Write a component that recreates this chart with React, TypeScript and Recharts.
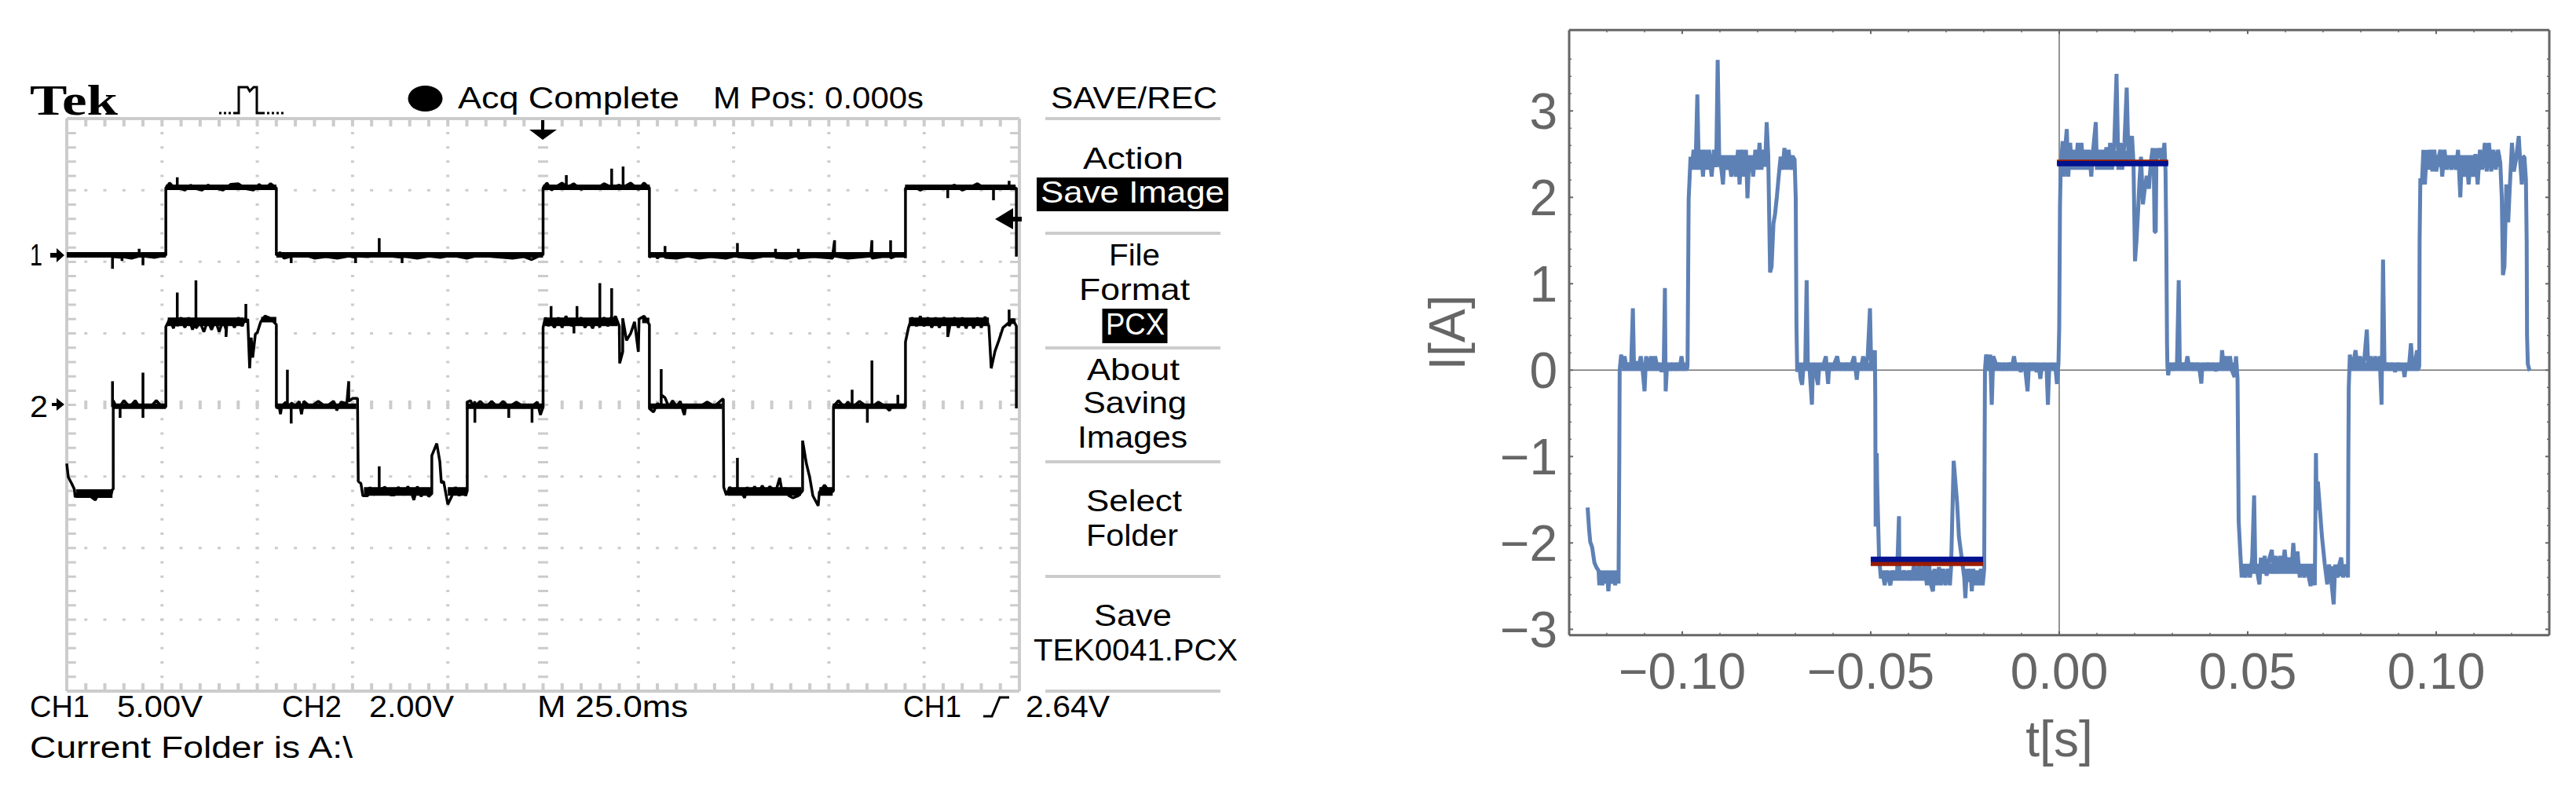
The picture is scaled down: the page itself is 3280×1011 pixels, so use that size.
import React from 'react';
import { LineChart, Line, XAxis, YAxis, ReferenceLine } from 'recharts';

type Seg = number[][];

// ---------- Oscilloscope: time in ms (25 ms/div), level in graticule divisions from centre ----------
const scopeDivTimes = [-100, -75, -50, -25, 25, 50, 75, 100];
const scopeDivLevels = [-3, -2, -1, 1, 2, 3];

const ch1Low1: Seg = [[-125,2.09],[-116,2.09],[-113,2.08],[-113,1.9],[-113,2.07],[-110.5,2.06],[-110.5,2.01],[-110.5,2.07],[-108,2.05],[-106,2.08],[-106,2.18],[-106,2.08],[-105,2.07],[-105,1.95],[-105,2.08],[-102,2.06],[-99.2,2.09]];
const ch1High1: Seg = [[-99,2.09],[-99,3.03],[-98,3.1],[-97,3.04],[-96,3.05],[-96,3.18],[-96,3.04],[-94,3],[-92.5,3.07],[-91,3.02],[-89.5,3],[-88,3.07],[-86,3.03],[-84,3],[-82,3.08],[-80,3.09],[-78,3.02],[-76,3],[-74.5,3.08],[-73,3.02],[-71.5,3.09],[-70,3.03]];
const ch1Low2: Seg = [[-70,2.09],[-69,2.13],[-68,2.05],[-66.5,2.07],[-66.1,2.06],[-66.1,1.98],[-66.1,2.08],[-63,2.1],[-60,2.05],[-57,2.07],[-54,2.05],[-51,2.08],[-49.2,2.06],[-49.2,1.98],[-49.2,2.08],[-46,2.07],[-43,2.09],[-43,2.33],[-43,2.08],[-40,2.08],[-37,2.06],[-37,1.98],[-37,2.08],[-33,2.05],[-30,2.08],[-27,2.06],[-24,2.09],[-20,2.05],[-17,2.09],[-13,2.07],[-8,2.05],[-5,2.07],[-3,2.03],[-1,2.08],[0,2.1]];
const ch1High2: Seg = [[0,2.1],[0,3.03],[1,3.1],[2.2,3.0],[3.5,3.05],[5,3.1],[6.1,3.05],[6.1,3.21],[6.1,3.03],[8,3.09],[10,3.01],[12,3.05],[14,3.02],[16,3.09],[18,3.04],[18,3.3],[18,3.04],[20,3.07],[21,3.04],[21,3.33],[21,3.04],[23,3.1],[25,3.01],[26.5,3.1],[27.9,3.03]];
const ch1Low3: Seg = [[27.9,2.06],[29,2.12],[30,2.05],[31,2.1],[32,2.07],[32,2.22],[32,2.06],[35,2.05],[38,2.08],[41,2.05],[44,2.07],[48,2.05],[51,2.09],[51,2.26],[51,2.07],[55,2.05],[58,2.08],[61,2.09],[61,2.18],[61,2.06],[64,2.05],[67,2.09],[67,2.18],[67,2.05],[71,2.07],[76,2.05],[76,2.09],[76.5,2.3],[76.5,2.08],[80,2.05],[86,2.08],[86.3,2.3],[86.3,2.05],[89,2.07],[91.2,2.07],[91.2,2.3],[91.2,2.05],[93,2.09],[95,2.12],[95.1,2.05]];
const ch1High3: Seg = [[95.1,3.03],[97,3.06],[99,3.0],[101,3.06],[103,3.02],[105,3.03],[106.2,3.02],[106.2,2.89],[106.2,3.04],[108,3.07],[110,3.0],[112,3.04],[114,3.09],[116,3.02],[118.2,3.04],[118.2,2.86],[118.2,3.03],[120,3.06],[122.3,3.04],[122.3,3.13],[122.3,3.02],[124.2,3.03],[124.2,2.07]];

const ch2Low0: Seg = [[-125,-0.82],[-124.6,-1.01],[-123.7,-1.1],[-123,-1.18],[-122.8,-1.29],[-121.5,-1.2],[-120.5,-1.28],[-119.5,-1.2],[-118.5,-1.29],[-117.5,-1.33],[-116.5,-1.22],[-115.5,-1.28],[-114.5,-1.2],[-113.5,-1.28],[-113,-1.18]];
const ch2Zero1: Seg = [[-112.8,-1.18],[-112.8,0.06],[-112,-0.03],[-111,-0.03],[-111,-0.18],[-111,-0.02],[-110,0.06],[-108.5,-0.03],[-107,0.06],[-106,-0.03],[-105,-0.03],[-105,0.45],[-105,-0.18],[-105,-0.03],[-103,-0.03],[-101.5,0.06],[-100,-0.03],[-99,-0.03]];
const ch2Spike1: Seg = [[-113,-0.03],[-113,0.33]];
const ch2High1: Seg = [[-99,1.09],[-98,1.2],[-97,1.07],[-96.3,1.2],[-96,1.1],[-96,1.57],[-96,1.1],[-95,1.22],[-94,1.08],[-93,1.22],[-92,1.05],[-91.1,1.2],[-91.1,1.74],[-91.1,1.07],[-90,1.15],[-89,1.02],[-88,1.18],[-87,1.05],[-86,1.18],[-85,1.02],[-84,1.18],[-83.2,1.05],[-83.2,0.95],[-83,1.14],[-82,1.2],[-81,1.08],[-80,1.22],[-79,1.1],[-78,1.22],[-78,1.41],[-78,1.15],[-77.5,1.2],[-77,0.51],[-76.6,0.94],[-76.2,0.66],[-75.5,0.99],[-75,1.01],[-74.1,1.16],[-73,1.24],[-72,1.22],[-71,1.18],[-70,1.12]];
const ch2Zero2: Seg = [[-70,-0.03],[-69.2,-0.05],[-68.9,-0.13],[-68.6,-0.02],[-67.5,0.04],[-67.1,-0.02],[-67.1,0.49],[-67.1,0.02],[-66.1,-0.03],[-66.1,-0.26],[-66.1,0.03],[-65,-0.02],[-64,0.05],[-63.4,-0.13],[-62.8,0.05],[-61,-0.03],[-59,0.05],[-57,-0.03],[-55,0.05],[-54.2,-0.03],[-54.2,-0.08],[-53,0.04],[-51.5,0.02],[-51,0.33],[-51,0.05],[-50,0.09],[-48.9,0.09]];
const ch2Low2: Seg = [[-48.7,0.09],[-48.5,-1.07],[-47.8,-1.1],[-47.3,-1.27],[-46,-1.27],[-45.5,-1.15],[-44.5,-1.26],[-43.5,-1.17],[-43,-1.24],[-43,-0.86],[-43,-1.2],[-41.5,-1.15],[-40,-1.26],[-39,-1.26],[-38,-1.15],[-36.5,-1.26],[-35.5,-1.14],[-34.5,-1.24],[-33.9,-1.33],[-33,-1.14],[-32,-1.28],[-31,-1.2],[-30,-1.28],[-29.2,-1.24],[-29.2,-0.71],[-27.9,-0.54],[-27.1,-0.79],[-26.7,-1.09],[-26.1,-1.07],[-25,-1.39],[-24,-1.28],[-23,-1.15],[-22,-1.27],[-21,-1.17],[-20.3,-1.27],[-19.9,-1.2],[-19.9,0.04]];
const ch2Zero3: Seg = [[-19.9,0.04],[-19,0.06],[-18.4,-0.03],[-17.9,0.05],[-17.9,-0.25],[-17.9,-0.02],[-16.5,0.05],[-15,-0.03],[-13.5,0.05],[-12,-0.03],[-10.5,0.05],[-9,-0.03],[-9,-0.18],[-9,-0.03],[-7,0.04],[-5,-0.03],[-2.9,-0.02],[-2.9,-0.25],[-2.9,-0.02],[-1.5,0.04],[-0.7,-0.14],[0,-0.03]];
const ch2High2: Seg = [[0,1.08],[0.6,1.22],[1.4,1.1],[2.1,1.22],[2.1,1.38],[2.1,1.15],[3,1.08],[4,1.22],[5,1.08],[6,1.24],[7,1.12],[8.1,1.1],[8.1,1.0],[8.1,1.2],[8.9,1.12],[8.9,1.38],[8.9,1.15],[10,1.22],[11,1.08],[12,1.18],[13,1.07],[14,1.2],[14.9,1.08],[14.9,1.7],[14.9,1.1],[16,1.22],[17,1.1],[18,1.24],[18,1.63],[18,1.14],[19,1.24],[20,1.1],[20.1,0.58],[20.9,0.74],[20.9,1.21],[21.9,0.9],[23,1],[24,1.16],[25,0.74],[25.2,1.2],[26.5,1.24],[27.9,1.12]];
const ch2Zero4: Seg = [[27.9,-0.05],[29,-0.1],[30,0.02],[31,-0.02],[31,0.5],[31,0.14],[32,0.1],[33,-0.03],[34,0.06],[35,-0.03],[36,0.05],[36.8,-0.1],[37.1,-0.14],[37.5,0],[39,-0.02],[41,-0.03],[43,0.04],[45,-0.02],[47.1,0.08]];
const ch2Low4: Seg = [[47.3,0.08],[47.4,-1.15],[48.1,-1.26],[49,-1.15],[50,-1.22],[51,-1.15],[51,-0.74],[51,-1.18],[52,-1.22],[52.9,-1.3],[53.5,-1.15],[54.5,-1.26],[55.5,-1.14],[56.5,-1.24],[57.5,-1.13],[58.5,-1.22],[59.5,-1.14],[61,-1.22],[62.1,-1.02],[62.8,-1.24],[63.5,-1.16],[64.5,-1.27],[65.6,-1.3],[67,-1.27],[68.1,-1.2],[68.1,-0.5],[69.1,-0.82],[70,-1.02],[70.8,-1.27],[72.2,-1.41],[72.5,-1.22],[73.9,-1.12],[75.3,-1.24],[76.2,-1.2],[76.2,-0.02]];
const ch2Zero5: Seg = [[76.2,-0.02],[77.5,0.06],[79,-0.03],[80,0.04],[81.1,-0.03],[81.1,0.21],[81.1,-0.04],[83,0.05],[85.1,-0.03],[85.1,-0.25],[85.1,-0.02],[86.3,-0.03],[86.3,0.62],[86.3,-0.03],[88,0.04],[90,-0.03],[90.9,-0.08],[91.5,-0.02],[93.1,-0.03],[93.1,0.14],[93.1,-0.03],[95.1,-0.03]];
const ch2High3: Seg = [[95.1,0.88],[95.9,1.08],[96.8,1.22],[98,1.1],[99,1.24],[100,1.1],[101,1.22],[102,1.08],[103,1.22],[104,1.08],[105.2,1.22],[106.2,1.1],[106.2,0.95],[106.8,1.12],[108,1.22],[109,1.08],[110,1.22],[111,1.07],[112,1.2],[113,1.07],[114,1.22],[115,1.08],[116,1.23],[117,1.1],[117.6,0.51],[118.6,0.75],[119.6,0.9],[120.7,1.08],[122.3,1.15],[122.3,1.33],[122.3,1.1],[123.2,1.2],[124.2,1.1],[124.2,-0.05]];

// Solid noise bands of the traces: [start ms, end ms, level]
const ch1Bands = [[-125,-99,2.095],[-70,0,2.095],[28,95,2.095],[-99,-70,3.04],[0,28,3.04],[95,124,3.04]];
const ch2ThinBands = [[-112.8,-99,-0.02],[-70,-49,-0.02],[-20,0,-0.02],[28,47,-0.02],[76,95,-0.02],[-74,-70,1.19],[26,27.9,1.18],[122.5,124,1.17]];
const ch2WideBands = [[-98.5,-78.5,1.16],[0.5,19.5,1.16],[96,117,1.16],[-47,-29.5,-1.21],[-25,-20,-1.21],[-122.5,-113,-1.24],[48.5,67.7,-1.21],[72.5,76,-1.21]];

// ---------- Measured current: time in ms, current in A ----------
const iLow0: Seg = [[-125.1,-1.59],[-124.7,-1.85],[-124.4,-1.99],[-123.9,-2.05],[-123.3,-2.23],[-122.8,-2.28],[-122.2,-2.32],[-122,-2.49],[-121.6,-2.32],[-121.2,-2.49],[-120.8,-2.32],[-120.4,-2.47],[-120,-2.32],[-119.6,-2.56],[-119.2,-2.32],[-118.8,-2.47],[-118.3,-2.32],[-117.8,-2.49],[-117.3,-2.32],[-116.9,-2.47],[-116.7,-1.02],[-116.6,0]];
const iZero1: Seg = [[-116.2,0.18],[-115.8,0.03],[-115.3,0.16],[-114.8,0.03],[-114.2,0.08],[-113.6,0],[-113.1,0.715],[-112.8,0.05],[-112.2,0.1],[-111.7,0],[-111,0.16],[-110.5,0],[-110,-0.245],[-109.6,0.16],[-108.9,0.03],[-108.3,0.16],[-107.8,0.03],[-107.2,0.16],[-106.6,0.03],[-106,0.08],[-105.5,-0.02],[-104.9,0.08],[-104.6,0.95],[-104.4,-0.245],[-104,0.08],[-103.3,0],[-102.6,0.08],[-102,0],[-101.3,0.08],[-100.7,0],[-100.2,0.16],[-99.7,0],[-99.2,0.08],[-98.8,0],[-98.6,0.05]];
const iHigh1: Seg = [[-98.3,1.98],[-97.8,2.47],[-97.5,2.32],[-97,2.55],[-96.5,2.32],[-96,3.19],[-95.6,2.32],[-95,2.55],[-94.5,2.24],[-94,2.55],[-93.4,2.32],[-92.9,2.55],[-92.2,2.24],[-91.6,2.55],[-91,2.35],[-90.6,3.59],[-90.2,2.47],[-89.6,2.32],[-89.2,2.15],[-88.8,2.47],[-88.2,2.32],[-87.6,2.47],[-87,2.24],[-86.4,2.47],[-85.8,2.24],[-85.2,2.55],[-84.8,2.15],[-84.2,2.55],[-83.6,2.24],[-83.1,2.55],[-82.7,1.99],[-82.3,2.4],[-81.7,2.47],[-81.2,2.24],[-80.6,2.55],[-80,2.32],[-79.5,2.63],[-79,2.32],[-78.4,2.55],[-78,2.4],[-77.6,2.87],[-77.2,2.5],[-76.7,1.13],[-76.3,1.2],[-75.8,1.7],[-75.4,1.8],[-74.9,2.01],[-74.4,2.25],[-73.9,2.47],[-73.4,2.32],[-72.9,2.57],[-72.3,2.32],[-71.8,2.55],[-71.2,2.32],[-70.7,2.47],[-70.2,2.44],[-69.9,2],[-69.7,0.5]];
const iZero2: Seg = [[-69.5,-0.02],[-69,0.08],[-68.6,-0.1],[-68.2,-0.17],[-67.8,0.08],[-67.4,0],[-67,1.04],[-66.7,0.08],[-66.2,0],[-65.6,-0.4],[-65.3,0.08],[-64.7,0],[-64,-0.17],[-63.6,0.08],[-63,0],[-62.4,0.08],[-61.9,0.16],[-61.3,-0.16],[-61,0.08],[-60.3,0],[-59.6,0.08],[-58.9,0.16],[-58.3,0],[-57.6,0.08],[-57,0],[-56.3,0.08],[-55.6,0],[-55,0.08],[-54.4,0.16],[-53.7,-0.11],[-53.3,0.08],[-52.7,0],[-52,0.16],[-51.4,0.03],[-50.8,0.16],[-50.2,0.715],[-49.9,0.08],[-49.5,0.23],[-49.1,0.08],[-48.9,0.23],[-48.8,-0.3]];
const iLow2: Seg = [[-48.7,-1.81],[-48.4,-0.96],[-48.3,-1.3],[-47.8,-2.17],[-47.3,-2.41],[-46.9,-2.32],[-46.3,-2.49],[-45.8,-2.32],[-45.3,-2.41],[-44.8,-2.49],[-44.2,-2.32],[-43.6,-2.41],[-43,-2.32],[-42.5,-1.69],[-42.4,-2.32],[-41.8,-2.41],[-41.2,-2.32],[-40.5,-2.41],[-39.8,-2.32],[-39.2,-2.43],[-38.5,-2.25],[-37.8,-2.38],[-37.1,-2.25],[-36.4,-2.38],[-35.7,-2.25],[-35.1,-2.49],[-34.5,-2.25],[-34,-2.49],[-33.5,-2.56],[-33.1,-2.3],[-32.5,-2.49],[-31.9,-2.28],[-31.4,-2.49],[-30.8,-2.3],[-30.2,-2.49],[-29.6,-2.3],[-29,-2.49],[-28.7,-2.29],[-28,-1.05],[-27.1,-1.53],[-26.6,-1.93],[-25.7,-2.23],[-25.2,-2.4],[-24.9,-2.64],[-24.5,-2.3],[-24,-2.45],[-23.6,-2.3],[-23.2,-2.56],[-22.8,-2.3],[-22.3,-2.49],[-21.8,-2.32],[-21.3,-2.49],[-20.8,-2.3],[-20.3,-2.49],[-19.9,-2.3],[-19.8,-1],[-19.7,0]];
const iZero3: Seg = [[-19.4,0.18],[-18.8,0.03],[-18.3,0.18],[-17.9,-0.4],[-17.5,0.16],[-17,0.1],[-16.5,0.03],[-15.8,0.08],[-15.2,0],[-14.5,0.08],[-14,0],[-13.3,0.08],[-12.6,0.02],[-12,0.16],[-11.4,0],[-10.8,0.08],[-10.2,-0.02],[-9.6,0.08],[-9,0],[-8.4,-0.245],[-8,0.08],[-7.3,0],[-6.7,0.08],[-6,-0.02],[-5.5,0.06],[-5,-0.1],[-4.5,0.08],[-3.9,0],[-3.4,0.08],[-3,-0.4],[-2.6,0.08],[-2,0],[-1.4,0.08],[-0.9,-0.02],[-0.6,-0.16],[-0.2,0.08]];
const iHigh2: Seg = [[0,0.5],[0.2,1.9],[0.4,2.34],[0.9,2.65],[1.3,2.24],[1.7,2.63],[2,2.79],[2.4,2.24],[2.9,2.63],[3.4,2.32],[3.9,2.55],[4.4,2.32],[4.9,2.63],[5.4,2.32],[5.9,2.63],[6.4,2.32],[6.9,2.55],[7.4,2.32],[7.9,2.55],[8.5,2.24],[9,2.55],[9.7,2.87],[10,2.32],[10.5,2.55],[11,2.32],[11.5,2.55],[12,2.32],[12.5,2.58],[13,2.32],[13.5,2.63],[14,2.32],[14.6,2.63],[15.2,3.43],[15.7,2.32],[16.2,2.63],[16.7,2.32],[17.3,2.63],[17.9,3.27],[18.4,2.4],[18.9,2.63],[19.3,2.71],[19.7,2.4],[20.1,1.26],[20.5,1.5],[20.9,1.83],[21.3,2.2],[21.7,2.47],[22.2,1.92],[22.7,2.1],[23.2,2.25],[23.8,2.1],[24.3,2.41],[24.8,2.57],[25.1,2.3],[25.3,1.6],[25.6,1.6],[25.8,2.57],[26.3,2.45],[26.8,2.57],[27.3,2.4],[27.9,2.63],[28.2,2.3],[28.4,1.5],[28.6,0.3]];
const iZero4: Seg = [[28.7,0.05],[28.9,-0.06],[29.3,0.08],[30,0],[30.7,0.08],[31.2,0],[31.7,1.04],[32,0],[32.7,0.08],[33.4,0],[34,0.16],[34.6,0],[35.3,0.08],[36,0],[36.7,0.08],[37.3,-0.02],[37.7,-0.155],[38,0.08],[38.7,0],[39.4,0.08],[40.1,0],[40.8,0.08],[41.5,-0.01],[42.2,0.08],[42.9,0],[43.2,0.23],[43.6,0.05],[44.2,0.16],[44.7,0.02],[45.3,0.16],[45.8,0],[46.5,-0.08],[46.9,0.16],[47.3,-0.1]];
const iLow4: Seg = [[47.5,-1.2],[47.6,-1.75],[48.1,-2.17],[48.4,-2.4],[48.8,-2.25],[49.4,-2.4],[50,-2.25],[50.6,-2.4],[51.2,-2.17],[51.7,-1.45],[52,-2.25],[52.6,-2.35],[53.1,-2.48],[53.5,-2.17],[54,-2.35],[54.5,-2.15],[55,-2.38],[55.6,-2.2],[56.4,-2.08],[56.8,-2.35],[57.4,-2.15],[58,-2.33],[58.6,-2.15],[59.2,-2.33],[59.8,-2.08],[60.4,-2.33],[61,-2.17],[61.6,-2.33],[62.1,-2],[62.6,-2.33],[63.2,-2.1],[63.8,-2.4],[64.4,-2.25],[65,-2.4],[65.6,-2.25],[66.2,-2.4],[66.7,-2.5],[67.3,-2.25],[67.8,-2.49],[68.1,-0.96],[68.3,-1.62],[68.6,-1.29],[69.7,-1.93],[70.4,-2.23],[71.1,-2.48],[71.6,-2.25],[72.2,-2.45],[72.8,-2.71],[73.2,-2.25],[73.8,-2.4],[74.3,-2.25],[74.8,-2.17],[75.3,-2.4],[76,-2.25],[76.6,-2.4],[76.7,-1],[76.8,-0.2]];
const iZero5: Seg = [[77.1,0.18],[77.6,0.03],[78.1,0.1],[78.6,0.23],[79.2,0],[79.8,0.16],[80.4,0],[81,0.16],[81.6,0.47],[82,0],[82.6,0.16],[83.2,0],[83.8,0.16],[84.4,0],[85,0.16],[85.5,-0.4],[85.9,1.28],[86.3,0],[87,0.08],[87.7,0],[88.4,0.08],[89.1,-0.02],[89.8,0.08],[90.5,0],[91.1,0.08],[91.6,-0.08],[92,0.08],[92.7,0],[93.3,0.31],[93.8,0],[94.4,0.08],[94.9,0.23],[95.2,0],[95.5,0.05]];
const iHigh3: Seg = [[95.6,1.5],[95.8,2.22],[96.2,2.15],[96.6,2.55],[97,2.15],[97.5,2.55],[98,2.32],[98.5,2.55],[99,2.3],[99.5,2.55],[100,2.3],[100.6,2.45],[101.1,2.55],[101.6,2.24],[102.2,2.55],[102.8,2.32],[103.4,2.48],[104,2.32],[104.6,2.48],[105.2,2.32],[105.8,2.55],[106.4,2],[106.8,2.48],[107.4,2.24],[108,2.48],[108.6,2.15],[109.2,2.48],[109.8,2.24],[110.4,2.5],[111,2.15],[111.6,2.55],[112.2,2.32],[112.9,2.63],[113.4,2.3],[114,2.63],[114.6,2.3],[115.2,2.55],[115.8,2.32],[116.4,2.55],[117,2.4],[117.4,2],[117.7,1.1],[118.1,1.2],[118.6,2.15],[119.1,1.71],[119.5,2.1],[120.1,2.63],[120.6,2.3],[121.2,2.45],[121.9,2.71],[122.3,2.4],[122.7,2.15],[123.1,2.47],[123.4,2.47],[123.8,2.2],[124,1.5],[124.1,0.4],[124.3,0.07],[124.8,-0.01]];

// Solid noise bands of the current: [start ms, end ms, level]
const iZeroBands = [[-116,-98.6,0.04],[-69.5,-49,0.04],[-19.5,-0.2,0.04],[28.8,47.3,0.04],[77,95.5,0.04]];
const iHighBands = [[-97.5,-77.5,2.42],[0.5,19.7,2.47],[96.6,117.2,2.42],[-73.5,-70.2,2.42]];
const iLowBands = [[-122,-117,-2.39],[-47,-29,-2.38],[-24.5,-20,-2.38],[48.5,67.7,-2.3],[71.4,76.5,-2.33]];

const meanUpperRed: Seg = [[-0.6,2.406],[28.9,2.406]];
const meanUpperBlue: Seg = [[-0.6,2.39],[28.9,2.39]];
const meanLowerRed: Seg = [[-50,-2.236],[-20.2,-2.236]];
const meanLowerBlue: Seg = [[-50,-2.19],[-20.2,-2.19]];

const currentTicksX = [-0.12,-0.11,-0.1,-0.09,-0.08,-0.07,-0.06,-0.05,-0.04,-0.03,-0.02,-0.01,0,0.01,0.02,0.03,0.04,0.05,0.06,0.07,0.08,0.09,0.1,0.11,0.12];
const currentTicksY = [-3,-2.8,-2.6,-2.4,-2.2,-2,-1.8,-1.6,-1.4,-1.2,-1,-0.8,-0.6,-0.4,-0.2,0,0.2,0.4,0.6,0.8,1,1.2,1.4,1.6,1.8,2,2.2,2.4,2.6,2.8,3,3.2,3.4,3.6];

const scopePts = (...segs: Seg[]) => segs.flat().map(([t, v]) => ({ t, v }));
const ampPts = (...segs: Seg[]) => segs.flat().map(([ms, i]) => ({ t: ms / 1000, i }));
const scopeBand = (bands: number[][]) => [...bands].sort((a, b) => a[0] - b[0]).flatMap(([a, b, v]) => [{ t: a, v }, { t: b, v }, { t: b, v: null }]);
const ampBand = (bands: number[][]) => [...bands].sort((a, b) => a[0] - b[0]).flatMap(([a, b, i]) => [{ t: a / 1000, i }, { t: b / 1000, i }, { t: b / 1000, i: null }]);

const ch1Data = scopePts(ch1Low1, ch1High1, ch1Low2, ch1High2, ch1Low3, ch1High3);
const ch2Data = scopePts(ch2Low0, ch2Zero1, ch2High1, ch2Zero2, ch2Low2, ch2Zero3, ch2High2, ch2Zero4, ch2Low4, ch2Zero5, ch2High3);
const currentData = ampPts(iLow0, iZero1, iHigh1, iZero2, iLow2, iZero3, iHigh2, iZero4, iLow4, iZero5, iHigh3);

const GRAY = '#cccccc';
const AXIS = '#666666';
const BLUE = '#5e81b5';
const SANS = '"Liberation Sans", Arial, sans-serif';

const T = ({ x, y, w, fill = '#000', children }: any) => (
  <text x={x} y={y} textLength={w} lengthAdjust="spacingAndGlyphs" fill={fill} fontFamily={SANS} fontSize={39}>{children}</text>
);

const Overlay = () => (
  <svg width={3280} height={1011} style={{ position: 'absolute', left: 0, top: 0 }}>
    <text x={38} y={146} textLength={112} lengthAdjust="spacingAndGlyphs" fontFamily='"Liberation Serif", serif' fontWeight="bold" fontSize={54}>Tek</text>
    <polyline fill="none" stroke="#000" strokeWidth={3} points="297,144 304,144 304,111 315,111 318,116 323,111 327,111 327,144 334,144" />
    <line x1={279} x2={297} y1={144} y2={144} stroke="#000" strokeWidth={3} strokeDasharray="3 3" />
    <line x1={334} x2={363} y1={144} y2={144} stroke="#000" strokeWidth={3} strokeDasharray="3 3" />
    <ellipse cx={541.5} cy={125.5} rx={22} ry={16.5} fill="#000" />
    <T x={583} y={138} w={282}>Acq Complete</T>
    <T x={908} y={138} w={268}>M Pos: 0.000s</T>
    <T x={1338} y={138} w={212}>SAVE/REC</T>
    <T x={1379} y={215} w={128}>Action</T>
    <rect x={1320} y={226} width={244} height={43} fill="#000" />
    <T x={1325} y={258} w={234} fill="#fff">Save Image</T>
    <T x={1412} y={338} w={65}>File</T>
    <T x={1374} y={382} w={141}>Format</T>
    <rect x={1403.5} y={393} width={83} height={44} fill="#000" />
    <T x={1408} y={426} w={75} fill="#fff">PCX</T>
    <T x={1384} y={484} w={118}>About</T>
    <T x={1379} y={526} w={132}>Saving</T>
    <T x={1372} y={570} w={140}>Images</T>
    <T x={1383} y={651} w={122}>Select</T>
    <T x={1383} y={695} w={117}>Folder</T>
    <T x={1393} y={797} w={99}>Save</T>
    <T x={1316} y={841} w={260}>TEK0041.PCX</T>
    <T x={38} y={913} w={76}>CH1</T>
    <T x={149} y={913} w={109}>5.00V</T>
    <T x={359} y={913} w={76}>CH2</T>
    <T x={470} y={913} w={108}>2.00V</T>
    <T x={684} y={913} w={192}>M 25.0ms</T>
    <T x={1150} y={913} w={74}>CH1</T>
    <polyline fill="none" stroke="#000" strokeWidth={3} points="1252,912 1263,912 1273,888 1285,888" />
    <T x={1306} y={913} w={107}>2.64V</T>
    <T x={38} y={965} w={411}>Current Folder is A:\</T>
    {[151, 297, 443, 588, 734, 880].map((y) => (
      <line key={y} x1={1331} x2={1554} y1={y} y2={y} stroke={GRAY} strokeWidth={4} />
    ))}
    <T x={38} y={338} w={16}>1</T>
    <path d="M82,325 L72,316 L72,322 L64,322 L64,328 L72,328 L72,334 Z" fill="#000" />
    <T x={38} y={531} w={23}>2</T>
    <path d="M82,515 L72,507 L72,513 L66,513 L66,517 L72,517 L72,523 Z" fill="#000" />
    <path d="M689,153 H693 V165 H709 L691,178 L674,165 H689 Z" fill="#000" />
    <path d="M1267,279 L1290,265 V276 H1301 V282 H1290 V292 Z" fill="#000" />
  </svg>
);

const Scope = () => (
  <LineChart width={1320} height={900} style={{ position: 'absolute', left: 0, top: 0 }}
    margin={{ left: 85, right: 22, top: 151, bottom: 20 }}>
    <XAxis type="number" dataKey="t" domain={[-125, 125]} hide />
    <YAxis type="number" dataKey="v" domain={[-4, 4]} hide />
    {scopeDivTimes.map((t) => (
      <ReferenceLine key={`v${t}`} x={t} stroke={GRAY} strokeWidth={4} strokeDasharray="3 15.22" strokeDashoffset={1.5} />
    ))}
    {scopeDivLevels.map((l) => (
      <ReferenceLine key={`h${l}`} y={l} stroke={GRAY} strokeWidth={3} strokeDasharray="4 20.26" strokeDashoffset={2} />
    ))}
    <ReferenceLine x={0} stroke={GRAY} strokeWidth={13} strokeDasharray="3 15.22" strokeDashoffset={1.5} />
    <ReferenceLine y={0} stroke={GRAY} strokeWidth={11} strokeDasharray="4 20.26" strokeDashoffset={2} />
    <ReferenceLine x={-123.8} stroke={GRAY} strokeWidth={12} strokeDasharray="3 15.22" strokeDashoffset={1.5} />
    <ReferenceLine x={123.8} stroke={GRAY} strokeWidth={12} strokeDasharray="3 15.22" strokeDashoffset={1.5} />
    <ReferenceLine y={3.945} stroke={GRAY} strokeWidth={10} strokeDasharray="4 20.26" strokeDashoffset={2} />
    <ReferenceLine y={-3.945} stroke={GRAY} strokeWidth={10} strokeDasharray="4 20.26" strokeDashoffset={2} />
    <ReferenceLine x={-125} stroke={GRAY} strokeWidth={4} />
    <ReferenceLine x={125} stroke={GRAY} strokeWidth={4} />
    <ReferenceLine y={4} stroke={GRAY} strokeWidth={4} />
    <ReferenceLine y={-4} stroke={GRAY} strokeWidth={4} />
    <Line data={scopeBand(ch1Bands)} dataKey="v" stroke="#000" strokeWidth={7} dot={false} isAnimationActive={false} />
    <Line data={scopeBand(ch2ThinBands)} dataKey="v" stroke="#000" strokeWidth={7} dot={false} isAnimationActive={false} />
    <Line data={scopeBand(ch2WideBands)} dataKey="v" stroke="#000" strokeWidth={11} dot={false} isAnimationActive={false} />
    <Line data={ch1Data} dataKey="v" stroke="#000" strokeWidth={3.5} dot={false} isAnimationActive={false} strokeLinejoin="bevel" />
    <Line data={ch2Data} dataKey="v" stroke="#000" strokeWidth={3.5} dot={false} isAnimationActive={false} strokeLinejoin="bevel" />
    <Line data={scopePts(ch2Spike1)} dataKey="v" stroke="#000" strokeWidth={3.5} dot={false} isAnimationActive={false} />
  </LineChart>
);

const isMajorX = (v: number) => Math.round(v * 100) % 5 === 0;
const isMajorY = (v: number) => Math.abs(v - Math.round(v)) < 0.001;
const fmt = (v: number, d: number) => (v < 0 ? '\u2212' : '') + Math.abs(v).toFixed(d);

const BottomTick = ({ x, y, payload }: any) => {
  const major = isMajorX(payload.value);
  return (
    <g>
      <line x1={x} x2={x} y1={y} y2={y - (major ? 5 : 3)} stroke={AXIS} strokeWidth={major ? 2 : 1.5} />
      {major && <text x={x} y={y + 68} textAnchor="middle" fill={AXIS} fontFamily={SANS} fontSize={64}>{fmt(payload.value, 2)}</text>}
    </g>
  );
};
const TopTick = ({ x, y, payload }: any) => {
  const major = isMajorX(payload.value);
  return <line x1={x} x2={x} y1={y} y2={y + (major ? 5 : 3)} stroke={AXIS} strokeWidth={major ? 2 : 1.5} />;
};
const LeftTick = ({ x, y, payload }: any) => {
  const major = isMajorY(payload.value);
  return (
    <g>
      <line x1={x} x2={x + (major ? 5 : 3)} y1={y} y2={y} stroke={AXIS} strokeWidth={major ? 2 : 1.5} />
      {major && <text x={x - 15} y={y + 23} textAnchor="end" fill={AXIS} fontFamily={SANS} fontSize={64}>{fmt(payload.value, 0)}</text>}
    </g>
  );
};
const RightTick = ({ x, y, payload }: any) => {
  const major = isMajorY(payload.value);
  return <line x1={x} x2={x - (major ? 5 : 3)} y1={y} y2={y} stroke={AXIS} strokeWidth={major ? 2 : 1.5} />;
};

const axisLine = { stroke: AXIS, strokeWidth: 3 };

const Current = () => (
  <LineChart width={1520} height={1011} style={{ position: 'absolute', left: 1760, top: 0 }}
    margin={{ left: 38, right: 33, top: 37.3, bottom: 102.3 }}>
    <XAxis xAxisId="b" type="number" dataKey="t" domain={[-0.13, 0.13]} ticks={currentTicksX} interval={0} height={100}
      tickSize={0} tickMargin={0} tickLine={false} axisLine={axisLine} tick={<BottomTick />} allowDataOverflow
      label={{ value: 't[s]', position: 'insideBottom', offset: -54, fill: AXIS, fontFamily: SANS, fontSize: 64 }} />
    <XAxis xAxisId="t" orientation="top" type="number" dataKey="t" domain={[-0.13, 0.13]} ticks={currentTicksX} interval={0} height={1}
      tickSize={0} tickMargin={0} tickLine={false} axisLine={axisLine} tick={<TopTick />} allowDataOverflow />
    <YAxis yAxisId="l" type="number" domain={[-3.067, 3.936]} ticks={currentTicksY} interval={0} width={200}
      tickSize={0} tickMargin={0} tickLine={false} axisLine={axisLine} tick={<LeftTick />} allowDataOverflow
      label={{ value: 'I[A]', angle: -90, position: 'insideLeft', offset: 44, textAnchor: 'middle', fill: AXIS, fontFamily: SANS, fontSize: 64 }} />
    <YAxis yAxisId="r" orientation="right" type="number" domain={[-3.067, 3.936]} ticks={currentTicksY} interval={0} width={1}
      tickSize={0} tickMargin={0} tickLine={false} axisLine={axisLine} tick={<RightTick />} allowDataOverflow />
    <ReferenceLine xAxisId="b" yAxisId="l" x={0} stroke="#707070" strokeWidth={1.5} />
    <ReferenceLine xAxisId="b" yAxisId="l" y={0} stroke="#707070" strokeWidth={1.5} />
    <Line xAxisId="t" yAxisId="r" data={currentData} dataKey="i" stroke="none" strokeWidth={0} dot={false} isAnimationActive={false} legendType="none" />
    <Line xAxisId="b" yAxisId="l" data={ampBand(iZeroBands)} dataKey="i" stroke={BLUE} strokeWidth={11} dot={false} isAnimationActive={false} />
    <Line xAxisId="b" yAxisId="l" data={ampBand(iHighBands)} dataKey="i" stroke={BLUE} strokeWidth={15} dot={false} isAnimationActive={false} />
    <Line xAxisId="b" yAxisId="l" data={ampBand(iLowBands)} dataKey="i" stroke={BLUE} strokeWidth={13} dot={false} isAnimationActive={false} />
    <Line xAxisId="b" yAxisId="l" data={currentData} dataKey="i" stroke={BLUE} strokeWidth={5} dot={false} isAnimationActive={false} strokeLinejoin="bevel" />
    <Line xAxisId="b" yAxisId="l" data={ampPts(meanUpperRed)} dataKey="i" stroke="#9a1c00" strokeWidth={6.7} dot={false} isAnimationActive={false} />
    <Line xAxisId="b" yAxisId="l" data={ampPts(meanUpperBlue)} dataKey="i" stroke="#00128f" strokeWidth={6.7} dot={false} isAnimationActive={false} />
    <Line xAxisId="b" yAxisId="l" data={ampPts(meanLowerRed)} dataKey="i" stroke="#9a1c00" strokeWidth={6.7} dot={false} isAnimationActive={false} />
    <Line xAxisId="b" yAxisId="l" data={ampPts(meanLowerBlue)} dataKey="i" stroke="#00128f" strokeWidth={6.7} dot={false} isAnimationActive={false} />
  </LineChart>
);

export default function App() {
  return (
    <div style={{ position: 'absolute', left: 0, top: 0, width: 3280, height: 1011, background: '#fff', overflow: 'hidden' }}>
      <Scope />
      <Overlay />
      <Current />
    </div>
  );
}
